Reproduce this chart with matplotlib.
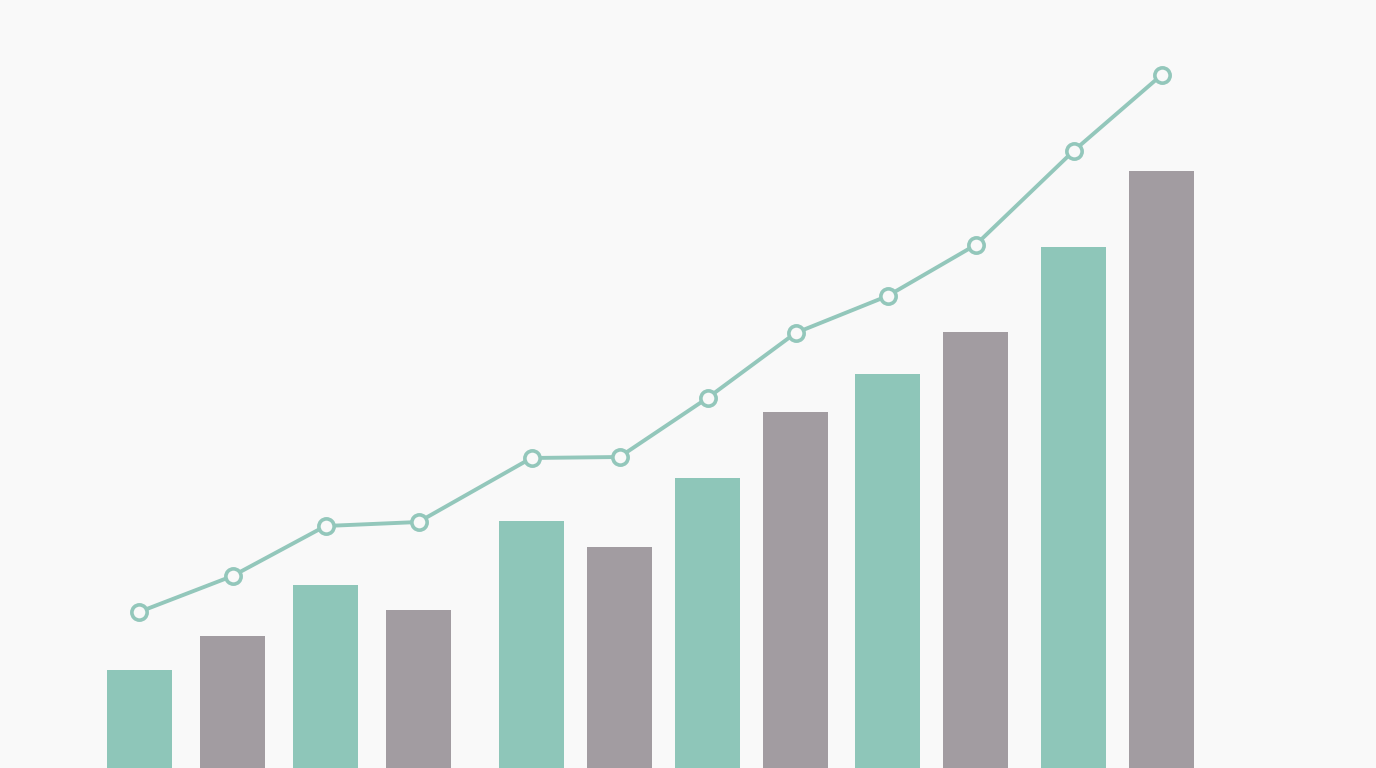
import matplotlib
matplotlib.use("Agg")
import matplotlib.pyplot as plt

# bar heights and line values (arbitrary units)
bar_values = [98, 132, 183, 158, 247, 221, 290, 356, 394, 436, 521, 597]
line_values = [156, 192, 242, 246, 310, 311, 370, 435, 472, 523, 617, 693]
bar_groups = ["teal", "gray"] * 6

teal = "#8ec6b9"
gray = "#a29ca1"
colors = {"teal": teal, "gray": gray}
bg = "#f9f9f9"

# slot centres (layout only) - the spacing is a bit uneven in the original
slot_x = [139, 232.5, 325.5, 418.5, 531.5, 619.5, 707.5, 795.5, 887.5, 975.5, 1073.5, 1161.5]

fig = plt.figure(figsize=(13.76, 7.68), dpi=100, facecolor=bg)
ax = fig.add_axes([0, 0, 1, 1])
ax.set_facecolor(bg)

ax.bar(slot_x, bar_values, width=65, color=[colors[g] for g in bar_groups], zorder=2)
ax.plot(slot_x, line_values, color="#93c7bb", lw=2.8, marker="o", markersize=11,
        markerfacecolor=bg, markeredgecolor="#93c7bb", markeredgewidth=2.6, zorder=3)

ax.set_xlim(0, 1376)
ax.set_ylim(0, 768)
ax.axis("off")

fig.savefig("out.png", dpi=100, facecolor=fig.get_facecolor())
